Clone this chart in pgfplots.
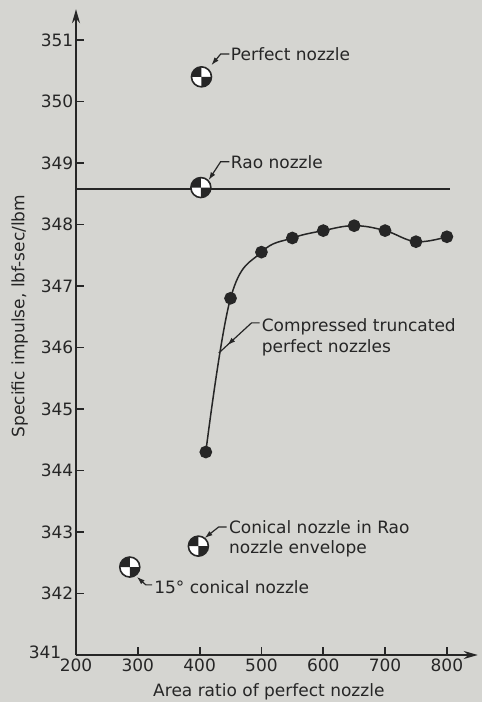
\documentclass[border=0pt]{standalone}
\usepackage{pgfplots}
\pgfplotsset{compat=1.18}
\usepackage{fontspec}
\setmainfont{DejaVu Sans}
\usetikzlibrary{arrows.meta,decorations.markings}
\definecolor{bg}{RGB}{213,213,209}
\definecolor{ink}{RGB}{38,38,38}
\pgfdeclareplotmark{cg}{%
  \pgfsetfillcolor{white}%
  \pgfpathcircle{\pgfpointorigin}{\pgfplotmarksize}%
  \pgfusepathqfill
  \pgfsetfillcolor{ink}%
  \pgfpathmoveto{\pgfpointorigin}%
  \pgfpathlineto{\pgfpoint{-\pgfplotmarksize}{0pt}}%
  \pgfpatharc{180}{90}{\pgfplotmarksize}%
  \pgfpathclose
  \pgfpathmoveto{\pgfpointorigin}%
  \pgfpathlineto{\pgfpoint{\pgfplotmarksize}{0pt}}%
  \pgfpatharc{0}{-90}{\pgfplotmarksize}%
  \pgfpathclose
  \pgfusepathqfill
  \pgfpathcircle{\pgfpointorigin}{\pgfplotmarksize}%
  \pgfusepathqstroke
}
\tikzset{leader/.style={ink, line width=0.6pt},
  tipA/.style={{Latex[length=4pt,width=2.6pt]}-}}
\begin{document}
\fontsize{8.5}{10.4}\selectfont
\begin{tikzpicture}[x=1pt,y=1pt]
\useasboundingbox[fill=bg] (-38,-23.5) rectangle (203,327.5);
\begin{axis}[
  at={(0,0)}, anchor=origin,
  scale only axis, width=200.9pt, height=322.9pt,
  xmin=200, xmax=850, ymin=341, ymax=351.5,
  axis lines=left,
  axis line style={ink, line width=1pt, -{Stealth[length=7pt,width=4pt]}},
  every tick/.style={ink, line width=0.9pt},
  tick align=inside, major tick length=4pt,
  xtick={200,300,...,800}, ytick={342,343,...,351},
  extra y ticks={341},
  extra y tick style={yticklabel style={xshift=-6pt, yshift=1.5pt}},
  xticklabel style={font=\fontsize{8.5}{10}\selectfont, text=ink, inner sep=1.5pt},
  yticklabel style={font=\fontsize{8.5}{10}\selectfont, text=ink, inner sep=1.2pt},
  /pgf/number format/assume math mode=true,
  /pgf/number format/set thousands separator={},
  xlabel={Area ratio of perfect nozzle},
  xlabel style={at={(axis description cs:0.48,0)}, anchor=center, yshift=-18.5pt, text=ink},
  ylabel={Specific impulse, lbf-sec/lbm},
  ylabel style={at={(axis description cs:-0.14,0.525)}, anchor=center, text=ink},
  clip=false,
]
% Rao line
\addplot[ink, line width=1pt] coordinates {(200,348.58) (805,348.58)};
% Compressed truncated perfect nozzles
\addplot[ink, line width=0.75pt, smooth, tension=0.65, mark=*, mark size=2.8pt,
  mark options={fill=ink, draw=ink}] coordinates {
  (410,344.3) (450,346.8) (500,347.55) (550,347.78) (600,347.9)
  (650,347.98) (700,347.9) (750,347.72) (800,347.8)};
% special nozzles
\addplot[only marks, mark=cg, mark size=5pt, ink, line width=0.8pt] coordinates {
  (403,350.4) (402,348.6) (398,342.77) (287,342.43)};
% leaders
\draw[leader, tipA] (axis cs:419,350.59) -- (axis cs:434,350.77) -- (axis cs:448,350.77);
\draw[leader, tipA] (axis cs:414.5,348.72) -- (axis cs:434,349.02) -- (axis cs:448,349.02);
\draw[leader, postaction={decorate}, decoration={markings,
   mark=at position 0.22 with {\arrowreversed{Latex[length=4pt,width=2.6pt]}}}]
   (axis cs:431,345.91) -- (axis cs:484,346.40) -- (axis cs:497,346.40);
\draw[leader, tipA] (axis cs:408,342.90) -- (axis cs:430.6,343.08) -- (axis cs:443.5,343.08);
\draw[leader, tipA] (axis cs:298.4,342.27) -- (axis cs:313,342.14) -- (axis cs:323,342.14);
% labels
\node[anchor=west, text=ink, inner sep=0pt] at (axis cs:450,350.77) {Perfect nozzle};
\node[anchor=west, text=ink, inner sep=0pt] at (axis cs:450,349.02) {Rao nozzle};
\node[anchor=west, text=ink, inner sep=0pt, align=left] at (axis cs:500,346.17) {Compressed truncated\\perfect nozzles};
\node[anchor=west, text=ink, inner sep=0pt, align=left] at (axis cs:447,342.89) {Conical nozzle in Rao\\nozzle envelope};
\node[anchor=west, text=ink, inner sep=0pt] at (axis cs:326,342.11) {15° conical nozzle};
\end{axis}
\end{tikzpicture}
\end{document}
